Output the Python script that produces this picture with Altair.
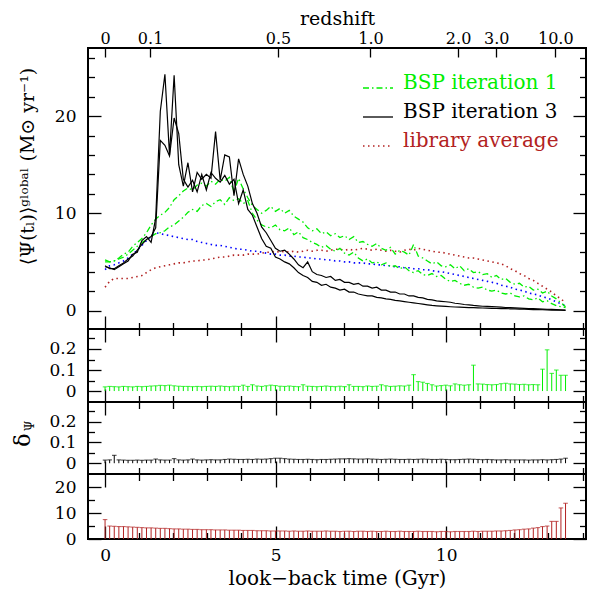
import altair as alt
import pandas as pd

# ---------------- data ----------------
lookback_gyr = [0.0, 0.135, 0.27, 0.405, 0.54, 0.675, 0.81, 0.945, 1.08, 1.215,
                1.35, 1.485, 1.62, 1.755, 1.89, 2.025, 2.16, 2.295, 2.43, 2.565,
                2.7, 2.835, 2.97, 3.105, 3.24, 3.375, 3.51, 3.645, 3.78, 3.915,
                4.05, 4.185, 4.32, 4.455, 4.59, 4.725, 4.86, 4.995, 5.13, 5.265,
                5.4, 5.535, 5.67, 5.805, 5.94, 6.075, 6.21, 6.345, 6.48, 6.615,
                6.75, 6.885, 7.02, 7.155, 7.29, 7.425, 7.56, 7.695, 7.83, 7.965,
                8.1, 8.235, 8.37, 8.505, 8.64, 8.775, 8.91, 9.045, 9.18, 9.315,
                9.45, 9.585, 9.72, 9.855, 9.99, 10.125, 10.26, 10.395, 10.53, 10.665,
                10.8, 10.935, 11.07, 11.205, 11.34, 11.475, 11.61, 11.745, 11.88, 12.015,
                12.15, 12.285, 12.42, 12.555, 12.69, 12.825, 12.96, 13.095, 13.23, 13.365, 13.5]

bsp_iter1_a = [5.2, 5.0, 5.1, 5.4, 5.8, 6.0, 6.6, 7.0, 7.4, 8.0,
               8.8, 9.4, 9.8, 10.1, 10.6, 11.4, 11.8, 12.3, 12.6, 12.4,
               12.9, 13.1, 12.8, 13.3, 13.0, 13.5, 13.3, 13.7, 12.2, 13.6,
               12.5, 11.6, 10.8, 10.4, 10.0, 10.3, 10.7, 10.2, 10.5, 10.0,
               10.3, 9.7, 9.4, 9.1, 8.5, 8.2, 8.4, 7.9, 8.1, 7.7,
               7.9, 7.5, 7.7, 7.3, 7.6, 7.0, 7.1, 6.8, 6.6, 6.9,
               6.4, 6.2, 6.5, 5.8, 6.2, 6.0, 5.7, 6.8, 5.6, 5.4,
               5.1, 4.8, 5.0, 4.6, 4.5, 4.7, 4.3, 4.6, 4.1, 4.3,
               3.9, 4.0, 3.7, 3.8, 3.4, 3.6, 3.2, 3.3, 2.9, 2.7,
               2.8, 2.4, 2.5, 2.1, 2.2, 1.8, 2.0, 1.5, 1.2, 0.8, 0.4]

bsp_iter1_b = [5.0, 5.0, 5.1, 5.3, 5.5, 5.8, 6.2, 6.6, 7.0, 7.3,
               7.6, 7.9, 8.0, 8.2, 8.6, 8.8, 9.2, 9.6, 10.1, 10.4,
               10.2, 10.8, 11.0, 10.7, 11.2, 11.4, 10.9, 11.6, 11.3, 11.5,
               11.0, 11.3, 10.0, 9.3, 8.8, 8.6, 8.5, 8.8, 8.3, 8.2,
               8.5, 7.8, 8.1, 7.5, 7.3, 7.0, 6.8, 6.5, 6.7, 6.3,
               6.1, 6.4, 5.9, 5.7, 6.0, 5.4, 5.1, 5.3, 4.9, 5.0,
               4.7, 4.9, 4.5, 4.6, 4.3, 4.5, 4.1, 3.9, 4.1, 3.7,
               3.6, 3.8, 3.5, 3.6, 3.2, 3.0, 3.1, 2.8, 2.6, 2.7,
               2.4, 2.3, 2.4, 2.1, 2.0, 2.1, 1.8, 1.7, 1.8, 1.5,
               1.4, 1.5, 1.2, 1.1, 1.3, 0.9, 1.0, 0.7, 0.5, 0.4, 0.3]

bsp_iter3_a = [4.5, 4.4, 4.2, 4.5, 4.8, 5.1, 5.8, 6.0, 7.2, 7.6,
               7.0, 9.5, 20.5, 24.3, 16.0, 24.2, 15.0, 12.8, 15.2, 12.2,
               14.2, 13.5, 14.0, 13.6, 18.4, 13.4, 16.0, 15.8, 11.8, 15.6,
               14.0, 12.8, 11.0, 10.0, 8.6, 8.0, 7.2, 6.4, 6.1, 6.2,
               5.8, 5.3, 4.7, 4.4, 5.0, 4.0, 3.7, 3.6, 3.4, 3.5,
               3.1, 3.2, 2.9, 2.9, 2.7, 2.8, 2.5, 2.5, 2.3, 2.4,
               2.1, 2.1, 1.9, 1.9, 1.7, 1.7, 1.5, 1.5, 1.35, 1.3,
               1.15, 1.1, 1.0, 0.95, 0.9, 0.85, 0.75, 0.7, 0.62, 0.58,
               0.52, 0.48, 0.44, 0.42, 0.4, 0.37, 0.34, 0.31, 0.29, 0.27,
               0.25, 0.23, 0.21, 0.19, 0.17, 0.15, 0.13, 0.11, 0.09, 0.07, 0.05]

bsp_iter3_b = [4.6, 4.3, 4.3, 4.6, 4.9, 5.3, 5.6, 6.2, 6.8, 7.3,
               7.6, 8.5, 17.5, 17.0, 15.9, 19.8, 18.2, 13.5, 12.7, 13.4,
               12.2, 14.0, 12.4, 14.2, 13.6, 13.2, 13.9, 13.0, 13.5, 11.0,
               12.4, 10.4, 9.8, 8.6, 7.4, 6.6, 6.4, 5.5, 5.3, 5.0,
               4.8, 4.4, 3.9, 3.6, 3.4, 3.0, 2.9, 2.6, 2.7, 2.4,
               2.3, 2.1, 2.2, 1.9, 1.9, 1.7, 1.6, 1.5, 1.5, 1.35,
               1.3, 1.2, 1.15, 1.05, 1.0, 0.92, 0.85, 0.78, 0.72, 0.65,
               0.58, 0.52, 0.48, 0.45, 0.42, 0.39, 0.36, 0.34, 0.32, 0.3,
               0.29, 0.27, 0.26, 0.24, 0.23, 0.21, 0.2, 0.19, 0.18, 0.16,
               0.15, 0.13, 0.12, 0.1, 0.09, 0.08, 0.06, 0.05, 0.04, 0.03, 0.02]

input_sfh_blue = [4.2, 4.6, 4.7, 4.9, 5.1, 5.4, 5.8, 6.2, 6.7, 7.2,
                  7.6, 8.0, 7.9, 7.8, 7.7, 7.6, 7.5, 7.4, 7.3, 7.3,
                  7.1, 7.0, 6.9, 6.8, 6.7, 6.7, 6.6, 6.5, 6.4, 6.3,
                  6.3, 6.2, 6.1, 6.1, 6.0, 5.9, 5.8, 5.8, 5.7, 5.7,
                  5.6, 5.6, 5.5, 5.5, 5.4, 5.4, 5.3, 5.3, 5.2, 5.2,
                  5.1, 5.1, 5.0, 5.0, 4.9, 4.9, 4.9, 4.8, 4.8, 4.7,
                  4.7, 4.6, 4.6, 4.5, 4.5, 4.4, 4.4, 4.3, 4.3, 4.2,
                  4.2, 4.1, 4.0, 4.0, 3.9, 3.8, 3.7, 3.6, 3.5, 3.4,
                  3.3, 3.2, 3.1, 3.0, 2.9, 2.8, 2.6, 2.5, 2.4, 2.2,
                  2.1, 2.0, 1.8, 1.7, 1.6, 1.4, 1.3, 1.1, 0.9, 0.7, 0.5]

library_average = [2.4, 3.0, 3.3, 3.3, 3.3, 3.3, 3.4, 3.5, 3.6, 3.9,
                   4.2, 4.4, 4.5, 4.6, 4.7, 4.8, 4.9, 4.9, 5.0, 5.1,
                   5.1, 5.2, 5.2, 5.3, 5.4, 5.5, 5.5, 5.6, 5.7, 5.7,
                   5.7, 5.8, 5.8, 5.8, 5.9, 6.0, 6.0, 6.1, 6.0, 6.1,
                   6.0, 6.1, 6.0, 6.1, 6.2, 6.1, 6.2, 6.2, 6.1, 6.2,
                   6.3, 6.3, 6.2, 6.3, 6.2, 6.3, 6.4, 6.3, 6.2, 6.3,
                   6.2, 6.1, 6.2, 6.1, 6.0, 6.2, 6.3, 6.2, 6.4, 6.3,
                   6.2, 6.1, 6.0, 6.0, 5.9, 5.8, 5.7, 5.6, 5.5, 5.4,
                   5.4, 5.3, 5.2, 5.1, 5.0, 4.9, 4.8, 4.6, 4.3, 4.1,
                   3.8, 3.6, 3.3, 3.1, 2.8, 2.5, 2.2, 1.9, 1.5, 1.2, 0.8]

delta_iter1 = [0.020, 0.022, 0.021, 0.020, 0.022, 0.021, 0.020, 0.022, 0.021, 0.022,
               0.024, 0.025, 0.027, 0.026, 0.028, 0.025, 0.023, 0.022, 0.022, 0.021,
               0.022, 0.021, 0.022, 0.023, 0.022, 0.024, 0.022, 0.021, 0.023, 0.022,
               0.028, 0.022, 0.030, 0.024, 0.022, 0.025, 0.028, 0.026, 0.023, 0.022,
               0.024, 0.022, 0.021, 0.030, 0.023, 0.022, 0.021, 0.022, 0.024, 0.022,
               0.021, 0.023, 0.021, 0.030, 0.022, 0.022, 0.021, 0.024, 0.022, 0.023,
               0.030, 0.025, 0.022, 0.023, 0.025, 0.024, 0.028, 0.078, 0.045, 0.042,
               0.036, 0.030, 0.024, 0.026, 0.028, 0.025, 0.034, 0.030, 0.028, 0.030,
               0.123, 0.034, 0.033, 0.031, 0.030, 0.031, 0.035, 0.037, 0.034, 0.033,
               0.031, 0.032, 0.030, 0.031, 0.030, 0.104, 0.196, 0.084, 0.100, 0.075, 0.075]

delta_iter3 = [0.015, 0.016, 0.038, 0.016, 0.015, 0.014, 0.014, 0.015, 0.014, 0.015,
               0.015, 0.020, 0.016, 0.015, 0.015, 0.022, 0.016, 0.015, 0.016, 0.020,
               0.016, 0.015, 0.016, 0.017, 0.016, 0.016, 0.018, 0.020, 0.019, 0.018,
               0.018, 0.019, 0.018, 0.020, 0.019, 0.020, 0.022, 0.024, 0.024, 0.022,
               0.020, 0.019, 0.018, 0.018, 0.019, 0.018, 0.017, 0.018, 0.018, 0.019,
               0.020, 0.021, 0.021, 0.022, 0.021, 0.020, 0.020, 0.021, 0.020, 0.019,
               0.018, 0.019, 0.020, 0.019, 0.018, 0.018, 0.019, 0.018, 0.019, 0.020,
               0.019, 0.018, 0.018, 0.019, 0.018, 0.017, 0.017, 0.018, 0.019, 0.020,
               0.019, 0.018, 0.017, 0.018, 0.017, 0.016, 0.016, 0.017, 0.016, 0.016,
               0.016, 0.016, 0.015, 0.016, 0.016, 0.017, 0.016, 0.017, 0.018, 0.020, 0.024]

delta_library = [7.5, 5.0, 4.9, 4.8, 4.8, 4.7, 4.6, 4.5, 4.4, 4.3,
                 4.3, 4.2, 4.1, 4.1, 4.0, 3.9, 3.9, 3.8, 3.8, 3.7,
                 3.7, 3.6, 3.6, 3.6, 3.5, 3.5, 3.5, 3.4, 3.4, 3.4,
                 3.3, 3.3, 3.3, 3.2, 3.2, 3.2, 3.1, 3.1, 3.1, 3.1,
                 3.0, 3.1, 3.0, 3.0, 3.1, 3.0, 3.0, 3.0, 3.1, 3.0,
                 3.0, 2.9, 3.0, 3.0, 2.9, 3.0, 3.0, 2.9, 3.0, 2.9,
                 2.9, 3.0, 2.9, 2.9, 3.0, 2.9, 2.9, 2.9, 3.0, 2.9,
                 2.9, 2.9, 2.8, 2.9, 2.9, 2.8, 2.9, 2.9, 2.9, 2.9,
                 3.0, 2.9, 3.0, 3.0, 3.0, 3.1, 3.1, 3.2, 3.3, 3.5,
                 3.6, 3.8, 3.9, 4.2, 4.4, 4.8, 5.0, 6.8, 6.8, 12.0, 13.8]

legend_labels = ["BSP iteration 1", "BSP iteration 3", "library average"]
redshift_labels = ["0", "0.1", "0.5", "1.0", "2.0", "3.0", "10.0"]
redshift_lookback = [0.0, 1.32, 5.07, 7.78, 10.35, 11.47, 13.2]
x_major = [0, 5, 10]
x_minor = [1, 2, 3, 4, 6, 7, 8, 9, 11, 12, 13, 14]
main_y_major = [0, 10, 20]
main_y_minor = [2, 4, 6, 8, 12, 14, 16, 18, 22, 24, 26]
frac_y_major = [0, 0.1, 0.2]
frac_y_minor = [0.05, 0.15, 0.25]
lib_y_major = [0, 10, 20]
lib_y_minor = [5, 15]

for arr in (bsp_iter1_a, bsp_iter1_b, bsp_iter3_a, bsp_iter3_b, input_sfh_blue,
            library_average, delta_iter1, delta_iter3, delta_library):
    assert len(arr) == len(lookback_gyr), len(arr)

# ---------------- layout / style ----------------
X_DOM = [-0.5, 14.1]
MAIN_DOM = [-1.9, 27.0]
FRAC_DOM = [-0.052, 0.295]
LIB_DOM = [0.0, 25.1]
W = 498
H_MAIN, H_IT1, H_IT3, H_LIB = 281, 73, 72, 65
FONT = "DejaVu Serif"
GREEN = "#00ee00"
RED = "#b22222"
BLUE = "#0000ff"

anchor = pd.DataFrame({"t": [0.0], "v": [0.0]})


def xch(axis=None):
    return alt.X("t:Q", scale=alt.Scale(domain=X_DOM, nice=False, zero=False), axis=axis)


def ych(dom, axis=None):
    return alt.Y("v:Q", scale=alt.Scale(domain=dom, nice=False, zero=False), axis=axis)


def tick_axis(orient, values, size, **kw):
    opts = dict(orient=orient, values=values, tickSize=size, offset=-size,
                domain=False, grid=False, labels=False, title=None,
                tickColor="black", tickWidth=1.3,
                labelFont=FONT, labelFontSize=17, labelColor="black",
                titleFont=FONT, titleFontSize=20, titleFontWeight="normal",
                titleColor="black", labelFlush=False, labelOverlap=False)
    opts.update(kw)
    return alt.Axis(**opts)


def carrier(dom, xaxis=None, yaxis=None):
    return alt.Chart(anchor).mark_point(opacity=0).encode(x=xch(xaxis), y=ych(dom, yaxis))


def frame_layers(dom, ymaj, ymin, yfmt, top=True, bottom_axis=None, left_extra=None):
    left_kw = dict(labels=True, format=yfmt, labelPadding=12)
    if left_extra:
        left_kw.update(left_extra)
    layers = [
        carrier(dom, yaxis=tick_axis("left", ymaj, 13, **left_kw)),
        carrier(dom, yaxis=tick_axis("left", ymin, 6.5)),
        carrier(dom, yaxis=tick_axis("right", ymaj, 13)),
        carrier(dom, yaxis=tick_axis("right", ymin, 6.5)),
        carrier(dom, xaxis=bottom_axis if bottom_axis is not None else tick_axis("bottom", x_major, 13)),
        carrier(dom, xaxis=tick_axis("bottom", x_minor, 6.5)),
    ]
    if top:
        layers += [carrier(dom, xaxis=tick_axis("top", x_major, 13)),
                   carrier(dom, xaxis=tick_axis("top", x_minor, 6.5))]
    return layers


def line_layer(vals, color, width, dash=None):
    df = pd.DataFrame({"t": lookback_gyr, "v": vals})
    kw = dict(color=color, strokeWidth=width)
    if dash is not None:
        kw["strokeDash"] = dash
    return alt.Chart(df).mark_line(**kw).encode(x=xch(), y=ych(MAIN_DOM))


def bar_layers(vals, color, dom):
    df = pd.DataFrame({"t": lookback_gyr, "v": vals})
    base = alt.Chart(df)
    rules = base.mark_rule(color=color, strokeWidth=1.0).encode(
        x=xch(), y=ych(dom), y2=alt.datum(0))
    caps = base.mark_tick(color=color, orient="horizontal", size=4.6, thickness=1.1).encode(
        x=xch(), y=ych(dom))
    return [rules, caps]


DOT = [1.5, 3.5]
DASHDOT = [6, 3, 1.5, 3]

# ---- main panel ----
main_lines = [
    line_layer(library_average, RED, 1.6, DOT),
    line_layer(input_sfh_blue, BLUE, 1.6, DOT),
    line_layer(bsp_iter1_a, GREEN, 1.3, DASHDOT),
    line_layer(bsp_iter1_b, GREEN, 1.3, DASHDOT),
    line_layer(bsp_iter3_a, "black", 1.2),
    line_layer(bsp_iter3_b, "black", 1.2),
]

legend_colors = [GREEN, "black", RED]
legend_dash = [DASHDOT, None, DOT]
legend_y = [41, 70, 99]
legend_layers = []
for lab, col, dsh, yy in zip(legend_labels, legend_colors, legend_dash, legend_y):
    legend_layers.append(
        alt.Chart(anchor).mark_text(text=lab, color=col, font=FONT, fontSize=20,
                                    align="left", baseline="alphabetic")
        .encode(x=alt.value(315), y=alt.value(yy)))
    rkw = dict(color=col, strokeWidth=1.5 if dsh is DOT else 1.3)
    if dsh is not None:
        rkw["strokeDash"] = dsh
    legend_layers.append(
        alt.Chart(anchor).mark_rule(**rkw)
        .encode(x=alt.value(275), x2=alt.value(305), y=alt.value(yy - 1)))

z_expr = "[{}][indexof([{}], datum.value)]".format(
    ",".join("'%s'" % s for s in redshift_labels),
    ",".join(str(v) for v in redshift_lookback))

main_title = "\u27e8\u03a8(t\u2097)\u27e9\u1d4d\u02e1\u1d52\u1d47\u1d43\u02e1 (M\u2299 yr\u207b\u00b9)"

main_axes = frame_layers(
    MAIN_DOM, main_y_major, main_y_minor, "d", top=False,
    left_extra=dict(title=main_title, titlePadding=17, titleFontSize=19, titleY=118))
main_axes.append(carrier(MAIN_DOM, xaxis=tick_axis(
    "top", redshift_lookback, 9, labels=True, labelExpr=z_expr, labelPadding=2,
    labelFontSize=16, title="redshift", titlePadding=2, titleFontSize=19)))

main = alt.layer(*(main_lines + legend_layers + main_axes)).resolve_axis(
    x="independent", y="independent").properties(width=W, height=H_MAIN)

# ---- BSP iteration 1 residuals ----
p_it1 = alt.layer(*(bar_layers(delta_iter1, GREEN, FRAC_DOM) +
                    frame_layers(FRAC_DOM, frac_y_major, frac_y_minor, "~g"))).resolve_axis(
    x="independent", y="independent").properties(width=W, height=H_IT1)

# ---- BSP iteration 3 residuals ----
delta_label = [
    alt.Chart(anchor).mark_text(text="\u03b4", angle=270, font=FONT, fontSize=22,
                                align="center", baseline="middle", color="black")
    .encode(x=alt.value(-65), y=alt.value(38)),
    alt.Chart(anchor).mark_text(text="\u03a8", angle=270, font=FONT, fontSize=12,
                                align="center", baseline="middle", color="black")
    .encode(x=alt.value(-58), y=alt.value(24)),
]
p_it3 = alt.layer(*(bar_layers(delta_iter3, "black", FRAC_DOM) + delta_label +
                    frame_layers(FRAC_DOM, frac_y_major, frac_y_minor, "~g"))).resolve_axis(
    x="independent", y="independent").properties(width=W, height=H_IT3)

# ---- library residuals ----
bottom_axis = tick_axis("bottom", x_major, 13, labels=True, format="d", labelPadding=8,
                        title="look\u2212back time (Gyr)", titlePadding=5, titleFontSize=20)
p_lib = alt.layer(*(bar_layers(delta_library, RED, LIB_DOM) +
                    frame_layers(LIB_DOM, lib_y_major, lib_y_minor, "d",
                                 bottom_axis=bottom_axis))).resolve_axis(
    x="independent", y="independent").properties(width=W, height=H_LIB)

chart = alt.vconcat(
    main, p_it1, p_it3, p_lib, spacing=0, bounds="flush",
    padding={"left": 3, "right": 0, "top": 0, "bottom": 0},
).configure_view(stroke="black", strokeWidth=2)

chart.save("out.html", embed_options={"renderer": "svg", "actions": False})
